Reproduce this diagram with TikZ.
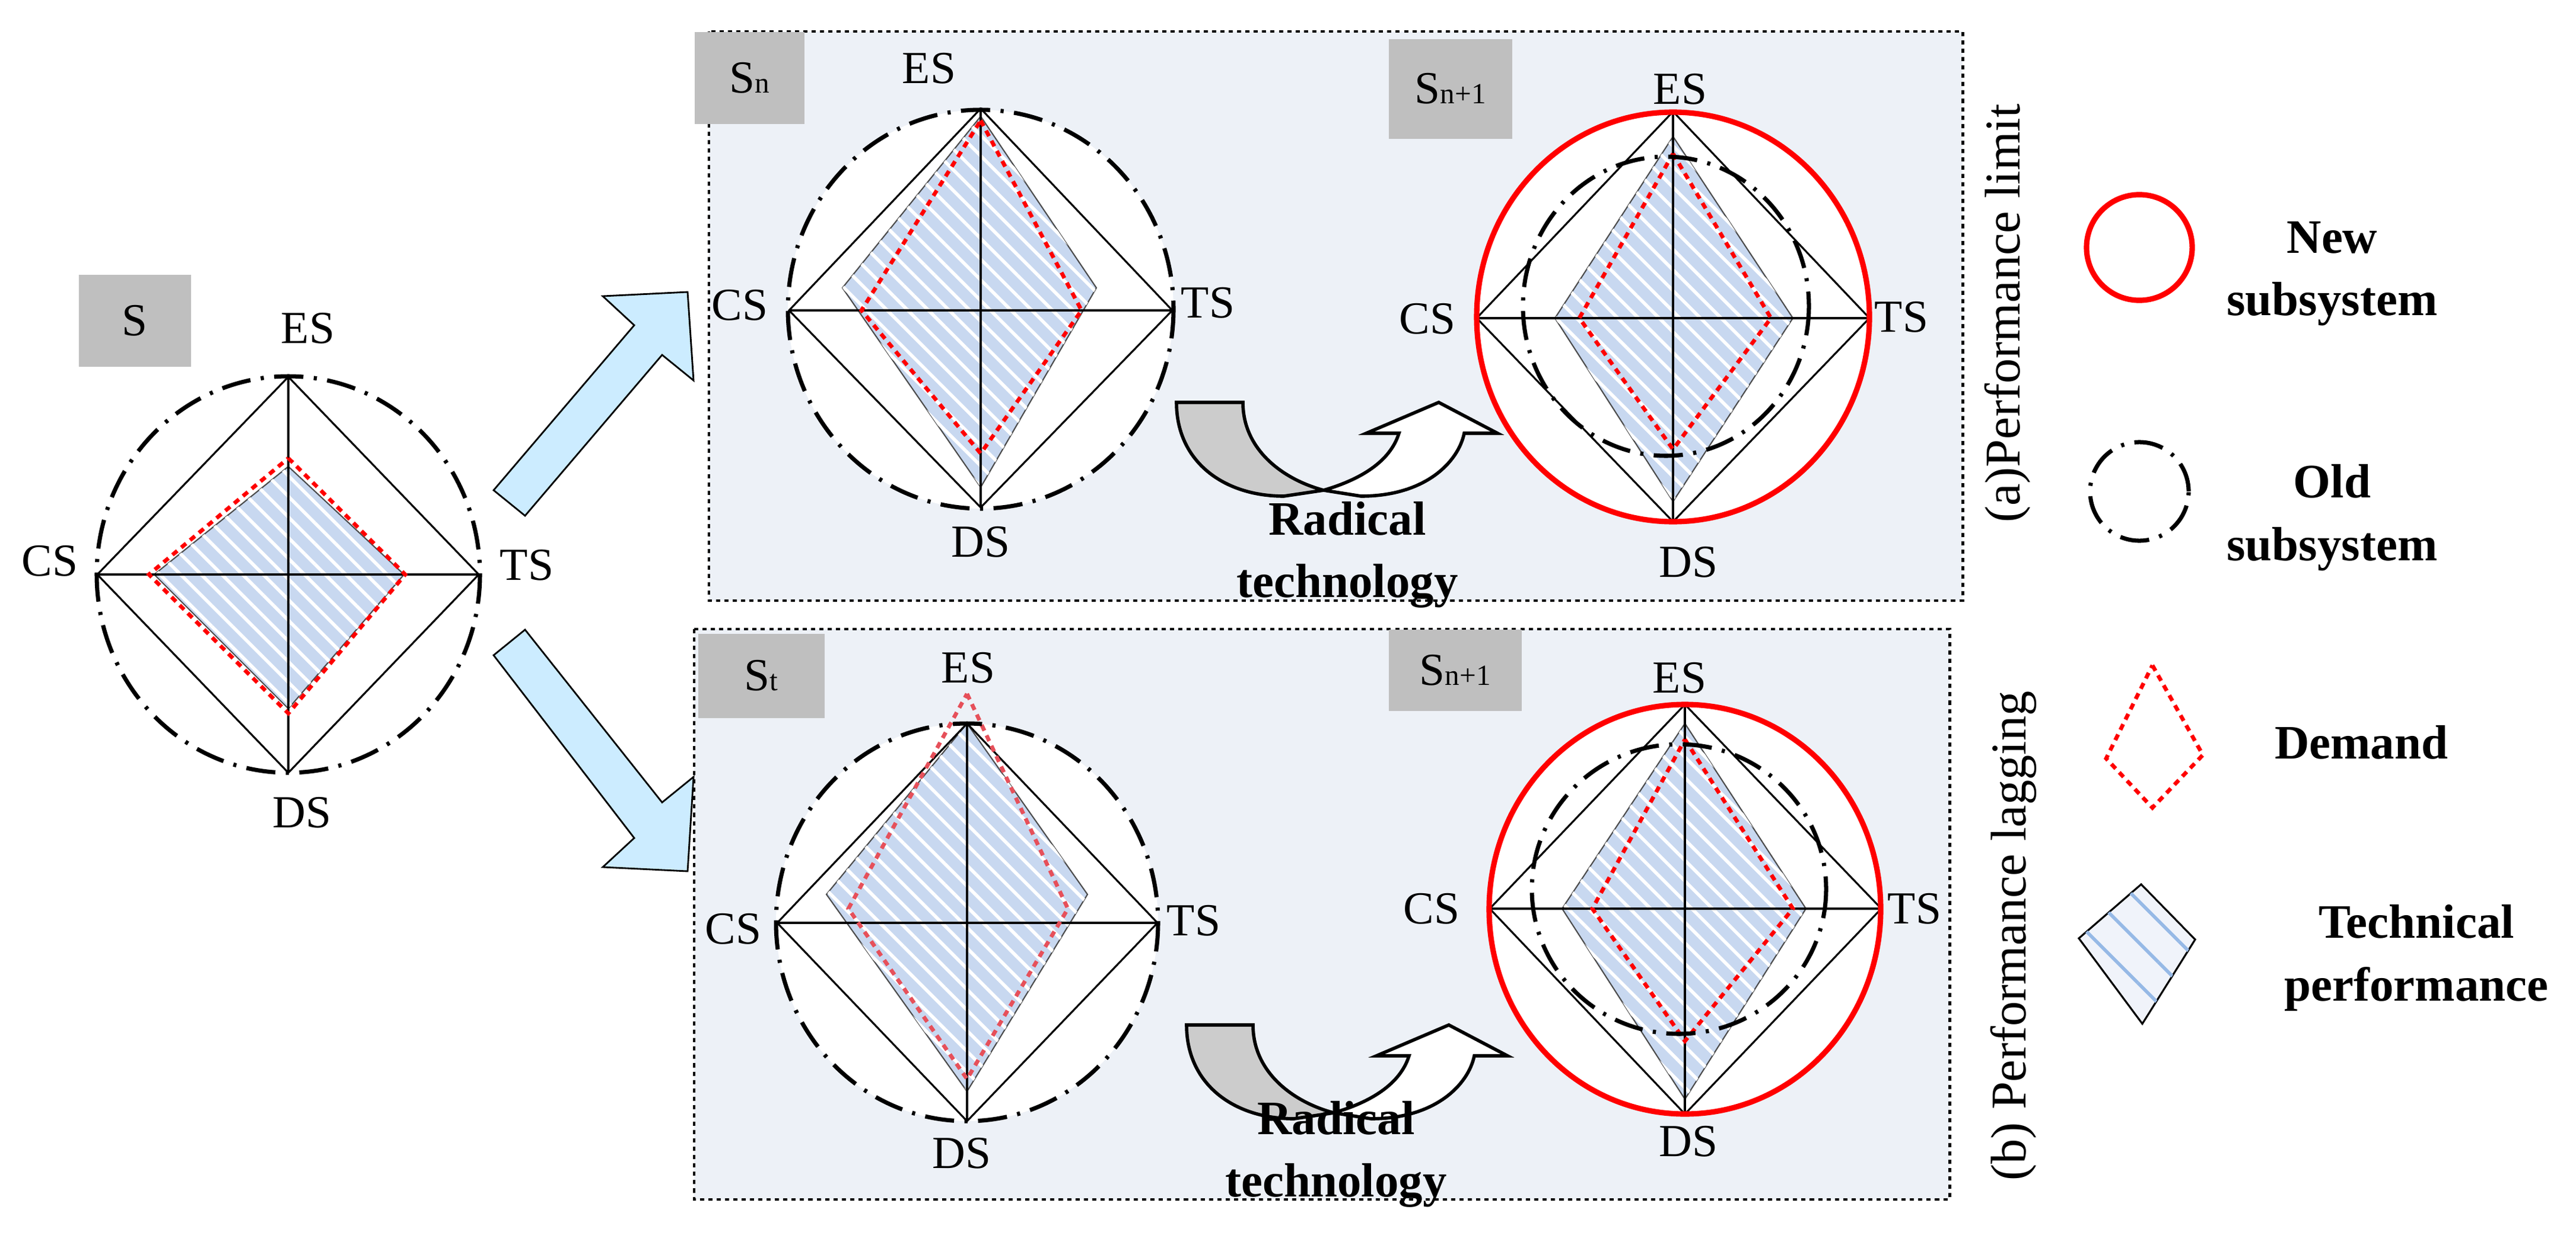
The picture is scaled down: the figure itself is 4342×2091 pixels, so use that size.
\documentclass[tikz,border=0pt]{standalone}
\usepackage{fontspec}
\setmainfont{Liberation Serif}
\usetikzlibrary{patterns.meta}
\definecolor{techblue}{RGB}{200,216,240}
\definecolor{panel}{RGB}{237,241,247}
\definecolor{lblgray}{RGB}{191,191,191}
\definecolor{arrowblue}{RGB}{204,236,255}
\definecolor{legendfill}{RGB}{240,243,250}
\definecolor{legendline}{RGB}{150,185,230}
\definecolor{pinkred}{RGB}{230,80,90}
\tikzset{
  lbl/.style={font=\fontsize{22}{26}\selectfont, inner sep=0pt},
  bold/.style={font=\fontsize{23}{30}\selectfont\bfseries, align=center, inner sep=0pt},
  box/.style={fill=lblgray, draw=none, inner sep=0pt},
  ax/.style={line width=0.9pt, black},
  old/.style={line width=2pt, dash pattern=on 14pt off 5pt on 1.5pt off 5pt},
  new/.style={line width=2.6pt, red},
  demand/.style={red, line width=1.9pt, dash pattern=on 3pt off 2.5pt},
  tech/.style={fill=techblue, draw=black!70, line width=0.6pt,
    postaction={pattern={Lines[angle=-45,distance=7pt,line width=1.6pt]}, pattern color=white}},
  frame/.style={fill=panel, draw=black, line width=1.4pt, dash pattern=on 2pt off 2pt},
  barrow/.style={fill=arrowblue, draw=black, line width=0.8pt},
  carrow/.style={draw=black, line width=1.6pt, line join=miter},
}
\begin{document}
\begin{tikzpicture}[x=0.01cm,y=-0.01cm]
\useasboundingbox (0,0) rectangle (4342,2091);
\fill[white] (0,0) rectangle (4342,2091);

% ---------- panels ----------
\path[frame] (1195,53) rectangle (3308,1012);
\path[frame] (1170,1060) rectangle (3286,2021);

% ---------- left radar S ----------
\node[box, minimum width=1.89cm, minimum height=1.55cm, anchor=north west] (bS) at (132,462) {};
\node[lbl] (tS) at (bS.center) {S};
\coordinate (c0) at (486,968);
\coordinate (e0) at (486,635); \coordinate (d0) at (486,1302);
\coordinate (w0) at (164,968); \coordinate (t0) at (807,968);
\path[tech] (486,786) -- (681,968) -- (486,1194) -- (260,968) -- cycle;
\draw[ax] (e0) -- (d0); \draw[ax] (w0) -- (t0);
\draw[ax] (e0) -- (t0) -- (d0) -- (w0) -- cycle;
\draw[demand] (486,772) -- (683,968) -- (486,1202) -- (251,968) -- cycle;
\draw[old] (c0) ellipse [x radius=323, y radius=334];
\node[lbl] (lE0) at (519,553) {ES};
\node[lbl] (lC0) at (84,945) {CS};
\node[lbl] (lT0) at (888,952) {TS};
\node[lbl] (lD0) at (509,1369) {DS};

% ---------- blue arrows ----------
\path[barrow] (832,826) -- (1069,548) -- (1016,499) -- (1159,492) -- (1169,641) -- (1116,598) -- (885,869) -- cycle;
\path[barrow] (832,1104) -- (885,1061) -- (1116,1352) -- (1169,1309) -- (1159,1468) -- (1016,1461) -- (1069,1412) -- cycle;

% ---------- radar 1 (Sn) ----------
\node[box, minimum width=1.85cm, minimum height=1.55cm, anchor=north west] (bSn) at (1170,53) {};
\node[lbl] (tSn) at (bSn.center) {S{\fontsize{14}{14}\selectfont n}};
\coordinate (c1) at (1653,521);
\coordinate (e1) at (1653,183); \coordinate (d1) at (1653,855);
\coordinate (w1) at (1330,523); \coordinate (t1) at (1976,523);
\fill[white] (c1) ellipse [x radius=325, y radius=336];
\path[tech] (1653,196) -- (1848,485) -- (1653,821) -- (1420,485) -- cycle;
\draw[ax] (e1) -- (d1); \draw[ax] (w1) -- (t1);
\draw[ax] (e1) -- (t1) -- (d1) -- (w1) -- cycle;
\draw[demand] (1653,203) -- (1823,523) -- (1653,764) -- (1452,523) -- cycle;
\draw[old] (c1) ellipse [x radius=325, y radius=336];
\node[lbl] (lE1) at (1566,115) {ES};
\node[lbl] (lC1) at (1247,514) {CS};
\node[lbl] (lT1) at (2036,510) {TS};
\node[lbl] (lD1) at (1653,913) {DS};

% ---------- radar 2 (Sn+1) ----------
\node[box, minimum width=2.08cm, minimum height=1.68cm, anchor=north west] (bSn1) at (2340,65) {};
\node[lbl] (tSn1) at (bSn1.center) {S{\fontsize{14}{14}\selectfont n+1}};
\coordinate (c2) at (2820,534);
\coordinate (e2) at (2820,188); \coordinate (d2) at (2820,879);
\coordinate (w2) at (2489,536); \coordinate (t2) at (3151,536);
\fill[white] (c2) ellipse [x radius=331, y radius=345];
\path[tech] (2820,230) -- (3022,536) -- (2820,845) -- (2621,536) -- cycle;
\draw[ax] (e2) -- (d2); \draw[ax] (w2) -- (t2);
\draw[ax] (e2) -- (t2) -- (d2) -- (w2) -- cycle;
\draw[demand] (2820,259) -- (2985,536) -- (2820,757) -- (2662,536) -- cycle;
\draw[old] (2808,516) ellipse [x radius=241, y radius=252];
\draw[new] (c2) ellipse [x radius=331, y radius=345];
\node[lbl] (lE2) at (2832,150) {ES};
\node[lbl] (lC2) at (2406,537) {CS};
\node[lbl] (lT2) at (3205,534) {TS};
\node[lbl] (lD2) at (2846,947) {DS};

% ---------- curved arrow 1 ----------
\begin{scope}[shift={(1983,678)}]
\path[carrow, fill=black!20] (0,0) -- (112,0) .. controls (112,80) and (180,130) .. (248,148)
   -- (181,158) .. controls (80,158) and (0,100) .. (0,0) -- cycle;
\path[carrow, fill=white] (248,148) -- (311,158) .. controls (420,158) and (475,100) .. (485,52)
   -- (541,52) -- (442,0) -- (320,52) -- (375,52) .. controls (360,100) and (310,130) .. (248,148) -- cycle;
\end{scope}
\node[bold] (rt1) at (2271,935) {Radical\\technology};

% ---------- radar 3 (St) ----------
\node[box, minimum width=2.13cm, minimum height=1.42cm, anchor=north west] (bSt) at (1176,1067) {};
\node[lbl] (tSt) at (bSt.center) {S{\fontsize{14}{14}\selectfont t}};
\coordinate (c3) at (1630,1554);
\coordinate (e3) at (1630,1219); \coordinate (d3) at (1630,1889);
\coordinate (w3) at (1310,1555); \coordinate (t3) at (1951,1555);
\fill[white] (c3) ellipse [x radius=322, y radius=335];
\path[tech] (1630,1219) -- (1833,1507) -- (1630,1839) -- (1393,1507) -- cycle;
\draw[ax] (e3) -- (d3); \draw[ax] (w3) -- (t3);
\draw[ax] (e3) -- (t3) -- (d3) -- (w3) -- cycle;
\draw[demand, pinkred] (1630,1169) -- (1800,1531) -- (1630,1818) -- (1430,1531) -- cycle;
\draw[old] (c3) ellipse [x radius=322, y radius=335];
\node[lbl] (lE3) at (1632,1125) {ES};
\node[lbl] (lC3) at (1236,1565) {CS};
\node[lbl] (lT3) at (2012,1551) {TS};
\node[lbl] (lD3) at (1621,1943) {DS};

% ---------- radar 4 (Sn+1) ----------
\node[box, minimum width=2.24cm, minimum height=1.37cm, anchor=north west] (bSn2) at (2340,1060) {};
\node[lbl] (tSn2) at (bSn2.center) {S{\fontsize{14}{14}\selectfont n+1}};
\coordinate (c4) at (2840,1532);
\coordinate (e4) at (2840,1187); \coordinate (d4) at (2840,1877);
\coordinate (w4) at (2511,1531); \coordinate (t4) at (3171,1531);
\fill[white] (c4) ellipse [x radius=330, y radius=345];
\path[tech] (2840,1219) -- (3044,1531) -- (2840,1852) -- (2633,1531) -- cycle;
\draw[ax] (e4) -- (d4); \draw[ax] (w4) -- (t4);
\draw[ax] (e4) -- (t4) -- (d4) -- (w4) -- cycle;
\draw[demand] (2840,1246) -- (3022,1531) -- (2840,1754) -- (2684,1531) -- cycle;
\draw[old] (2830,1498) ellipse [x radius=248, y radius=244];
\draw[new] (c4) ellipse [x radius=330, y radius=345];
\node[lbl] (lE4) at (2831,1142) {ES};
\node[lbl] (lC4) at (2413,1531) {CS};
\node[lbl] (lT4) at (3227,1531) {TS};
\node[lbl] (lD4) at (2846,1923) {DS};

% ---------- curved arrow 2 ----------
\begin{scope}[shift={(2000,1727)}]
\path[carrow, fill=black!20] (0,0) -- (112,0) .. controls (112,80) and (180,130) .. (248,148)
   -- (181,158) .. controls (80,158) and (0,100) .. (0,0) -- cycle;
\path[carrow, fill=white] (248,148) -- (311,158) .. controls (420,158) and (475,100) .. (485,52)
   -- (541,52) -- (442,0) -- (320,52) -- (375,52) .. controls (360,100) and (310,130) .. (248,148) -- cycle;
\end{scope}
\node[bold] (rt2) at (2252,1945) {Radical\\technology};

% ---------- side titles ----------
\node[lbl, rotate=90, font=\fontsize{24}{28}\selectfont] (pa) at (3384,528) {(a)Performance limit};
\node[lbl, rotate=90, font=\fontsize{24}{28}\selectfont] (pb) at (3394,1577) {(b) Performance lagging};

% ---------- legend ----------
\node[draw=red, line width=2.6pt, circle, minimum size=1.78cm, inner sep=0pt] (gNew) at (3606,417) {};
\node[bold] (tNew) at (3931,461) {New\\subsystem};
\node[draw=black, old, circle, minimum size=1.66cm, inner sep=0pt] (gOld) at (3606,828) {};
\node[bold] (tOld) at (3931,872) {Old\\subsystem};
\draw[demand] (3628,1121) -- (3713,1272) -- (3628,1361) -- (3550,1278) -- cycle;
\node[bold] (tDem) at (3980,1251) {Demand};
\path[fill=legendfill, draw=black, line width=0.9pt,
  postaction={pattern={Lines[angle=-45,distance=14pt,line width=1.6pt]}, pattern color=legendline}]
  (3609,1490) -- (3700,1583) -- (3611,1725) -- (3504,1581) -- cycle;
\node[bold] (tTech) at (4073,1614) {Technical\\performance};
\end{tikzpicture}
\end{document}
